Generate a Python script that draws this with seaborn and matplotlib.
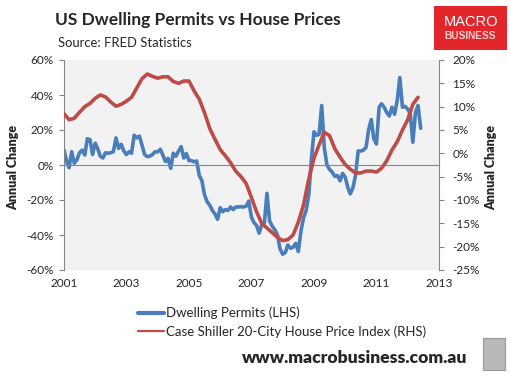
import pandas as pd
import matplotlib
matplotlib.use('Agg')
import matplotlib.pyplot as plt
from matplotlib.patches import Rectangle
import seaborn as sns

# Dwelling permits, annual % change (LHS), monthly from Jan 2001
permits = [8.6, 2, -1.5, 7.6, 1, 3, 7, 8.5, 5.7, 15, 14.5, 6,
           12.5, 9, 5, 4, 7, 6.7, 7, 7.6, 15.5, 9.5, 11.8, 8,
           6, 7.6, 6.7, 17, 15.5, 16.5, 11.5, 6, 4.8, 5, 6, 7.6,
           7.5, 9, 5.7, 2, 3.8, -1.9, 6.7, 5, 8, 10.5, 4, 6.5,
           2.5, 2.5, 1.8, 2.3, -6, -9, -17, -21, -23, -26, -28, -31,
           -24.4, -26.7, -25.5, -26, -24, -25.5, -24, -24, -23.8, -24, -23.5, -20.6,
           -30, -33, -34.5, -39, -34, -33, -16.2, -32, -35, -37, -40, -48,
           -51, -50, -45.7, -47.6, -47, -44.8, -49.5, -38, -30, -26, -17, 3,
           19, 17, 17.5, 34, 10, 0, -2.5, -4, -6.5, -6, -9, -4.8,
           -7, -13, -16.5, -13, -6, 8, 8, 8.5, 10, 20, 26, 15,
           12, 33, 35, 33, 30, 28, 33, 29, 37, 50, 33, 33.5,
           32, 29, 13, 30, 34, 21]

# Case Shiller 20-city, annual % change (RHS), every second month from Jan 2001
case_shiller = [8.5, 7.2, 7.5, 8.8, 10, 10.7, 11.8, 12.5, 12.1, 11, 10.1, 10.5,
                11.2, 12, 14, 16, 17, 16.5, 16.1, 16.4, 16.4, 15.4, 15, 15.5,
                15.5, 13.4, 11.6, 8.7, 5.3, 3, 0.8, -0.5, -2, -3.8, -5, -6.5,
                -9.5, -12.5, -15, -16, -17, -18, -18.7, -18.5, -17.5, -14.8, -11, -5.5,
                -1, 1.8, 4.5, 3.8, 1, -0.8, -2.4, -3.4, -4.2, -4.2, -3.8, -3.8,
                -4, -3.2, -1.6, 0.7, 2.5, 5, 7.2, 10.5, 12]

left_ticks = [-60, -40, -20, 0, 20, 40, 60]
right_ticks = [-25, -20, -15, -10, -5, 0, 5, 10, 15, 20]
year_ticks = [2001, 2003, 2005, 2007, 2009, 2011, 2013]

df_p = pd.DataFrame({'date': pd.date_range('2001-01-01', periods=len(permits), freq='MS'),
                     'value': permits})
df_c = pd.DataFrame({'date': pd.date_range('2001-01-01', periods=len(case_shiller), freq='2MS'),
                     'value': case_shiller})

sns.set_style('white')
plt.rcParams['font.family'] = ['Lato', 'DejaVu Sans']

blue = '#4A7EBB'
red = '#BE4B48'
grey = '#868686'

fig = plt.figure(figsize=(5.11, 3.76), dpi=100)
ax = fig.add_axes([64/511, 1-270/376, 375/511, 210/376])
ax.set_facecolor('#F2F2F2')

sns.lineplot(data=df_p, x='date', y='value', ax=ax, color=blue, linewidth=2.6,
             label='Dwelling Permits (LHS)', legend=False)
ax2 = ax.twinx()
sns.lineplot(data=df_c, x='date', y='value', ax=ax2, color=red, linewidth=2.6,
             label='Case Shiller 20-City House Price Index (RHS)', legend=False)

ax.set_xlim(pd.Timestamp('2001-01-01'), pd.Timestamp('2013-01-01'))
ax.set_ylim(-60, 60)
ax2.set_ylim(-25, 20)

ax.set_yticks(left_ticks)
ax.set_yticklabels([f'{t}%' for t in left_ticks])
ax2.set_yticks(right_ticks)
ax2.set_yticklabels([f'{t}%' for t in right_ticks])

for a in (ax, ax2):
    for s in ('top', 'bottom', 'left', 'right'):
        a.spines[s].set_visible(False)
ax.spines['left'].set_visible(True)
ax.spines['left'].set_color(grey)
ax2.spines['right'].set_visible(True)
ax2.spines['right'].set_color(grey)
ax.spines['bottom'].set_visible(True)
ax.spines['bottom'].set_color(grey)
ax.spines['bottom'].set_position(('data', 0))

ticks = [pd.Timestamp(f'{y}-01-01') for y in year_ticks]
ax.set_xticks(ticks)
ax.tick_params(axis='x', length=4, width=0.8, color=grey, direction='out', labelbottom=False)
ax.tick_params(axis='y', length=3.6, width=0.8, color=grey, direction='out', labelsize=8.5, pad=3.8)
ax2.tick_params(axis='y', length=3.6, width=0.8, color=grey, direction='out', labelsize=8.5, pad=6)

sec = ax.secondary_xaxis('bottom')
sec.set_xticks(ticks)
sec.set_xticklabels([str(y) for y in year_ticks])
sec.spines['bottom'].set_visible(False)
sec.tick_params(length=0, labelsize=8.5, pad=6)

ax.set_xlabel('')
ax.set_ylabel('Annual Change', fontsize=9, fontweight='heavy')
ax2.set_ylabel('Annual Change', fontsize=9, fontweight='heavy', rotation=90)
ax.yaxis.set_label_coords(-0.12, 0.49)
ax2.yaxis.set_label_coords(1.123, 0.49)
ax2.grid(False)
ax.grid(False)

# legend below the plot
h1, l1 = ax.get_legend_handles_labels()
h2, l2 = ax2.get_legend_handles_labels()
leg = fig.legend(h1 + h2, l1 + l2, loc='upper left', bbox_to_anchor=(126/511, 1-295/376),
                 frameon=False, fontsize=9.5, handlelength=2.0, handletextpad=0.1,
                 labelspacing=0.42)
leg.get_lines()[0].set_linewidth(3)
leg.get_lines()[1].set_linewidth(1.6)

fig.text(55/511, 1-20/376, 'US Dwelling Permits vs House Prices', fontsize=12.5,
         fontweight='bold', va='center', ha='left')
fig.text(58/511, 1-43/376, 'Source: FRED Statistics', fontsize=9.4, va='center', ha='left')
fig.text(467/511, 1-358/376, 'www.macrobusiness.com.au', fontsize=12.6,
         fontweight='heavy', va='center', ha='right')

# logo box
fig.patches.append(Rectangle((434/511, 1-50/376), 73/511, 44/376, transform=fig.transFigure,
                             facecolor='#E3262C', edgecolor='none'))
fig.text(470.5/511, 1-22/376, 'MACRO', fontsize=10.5, color='white', ha='center', va='center',
         family='Liberation Sans')
fig.text(470.5/511, 1-36/376, 'BUSINESS', fontsize=7.3, color='#F5D0D0', ha='center', va='center',
         family='Liberation Sans', fontweight='bold')
fig.patches.append(Rectangle((483/511, 1-370/376), 22/511, 32/376, transform=fig.transFigure,
                             facecolor='#B8B8B8', edgecolor='#999999', linewidth=0.8))

fig.savefig('out.png', dpi=100)
